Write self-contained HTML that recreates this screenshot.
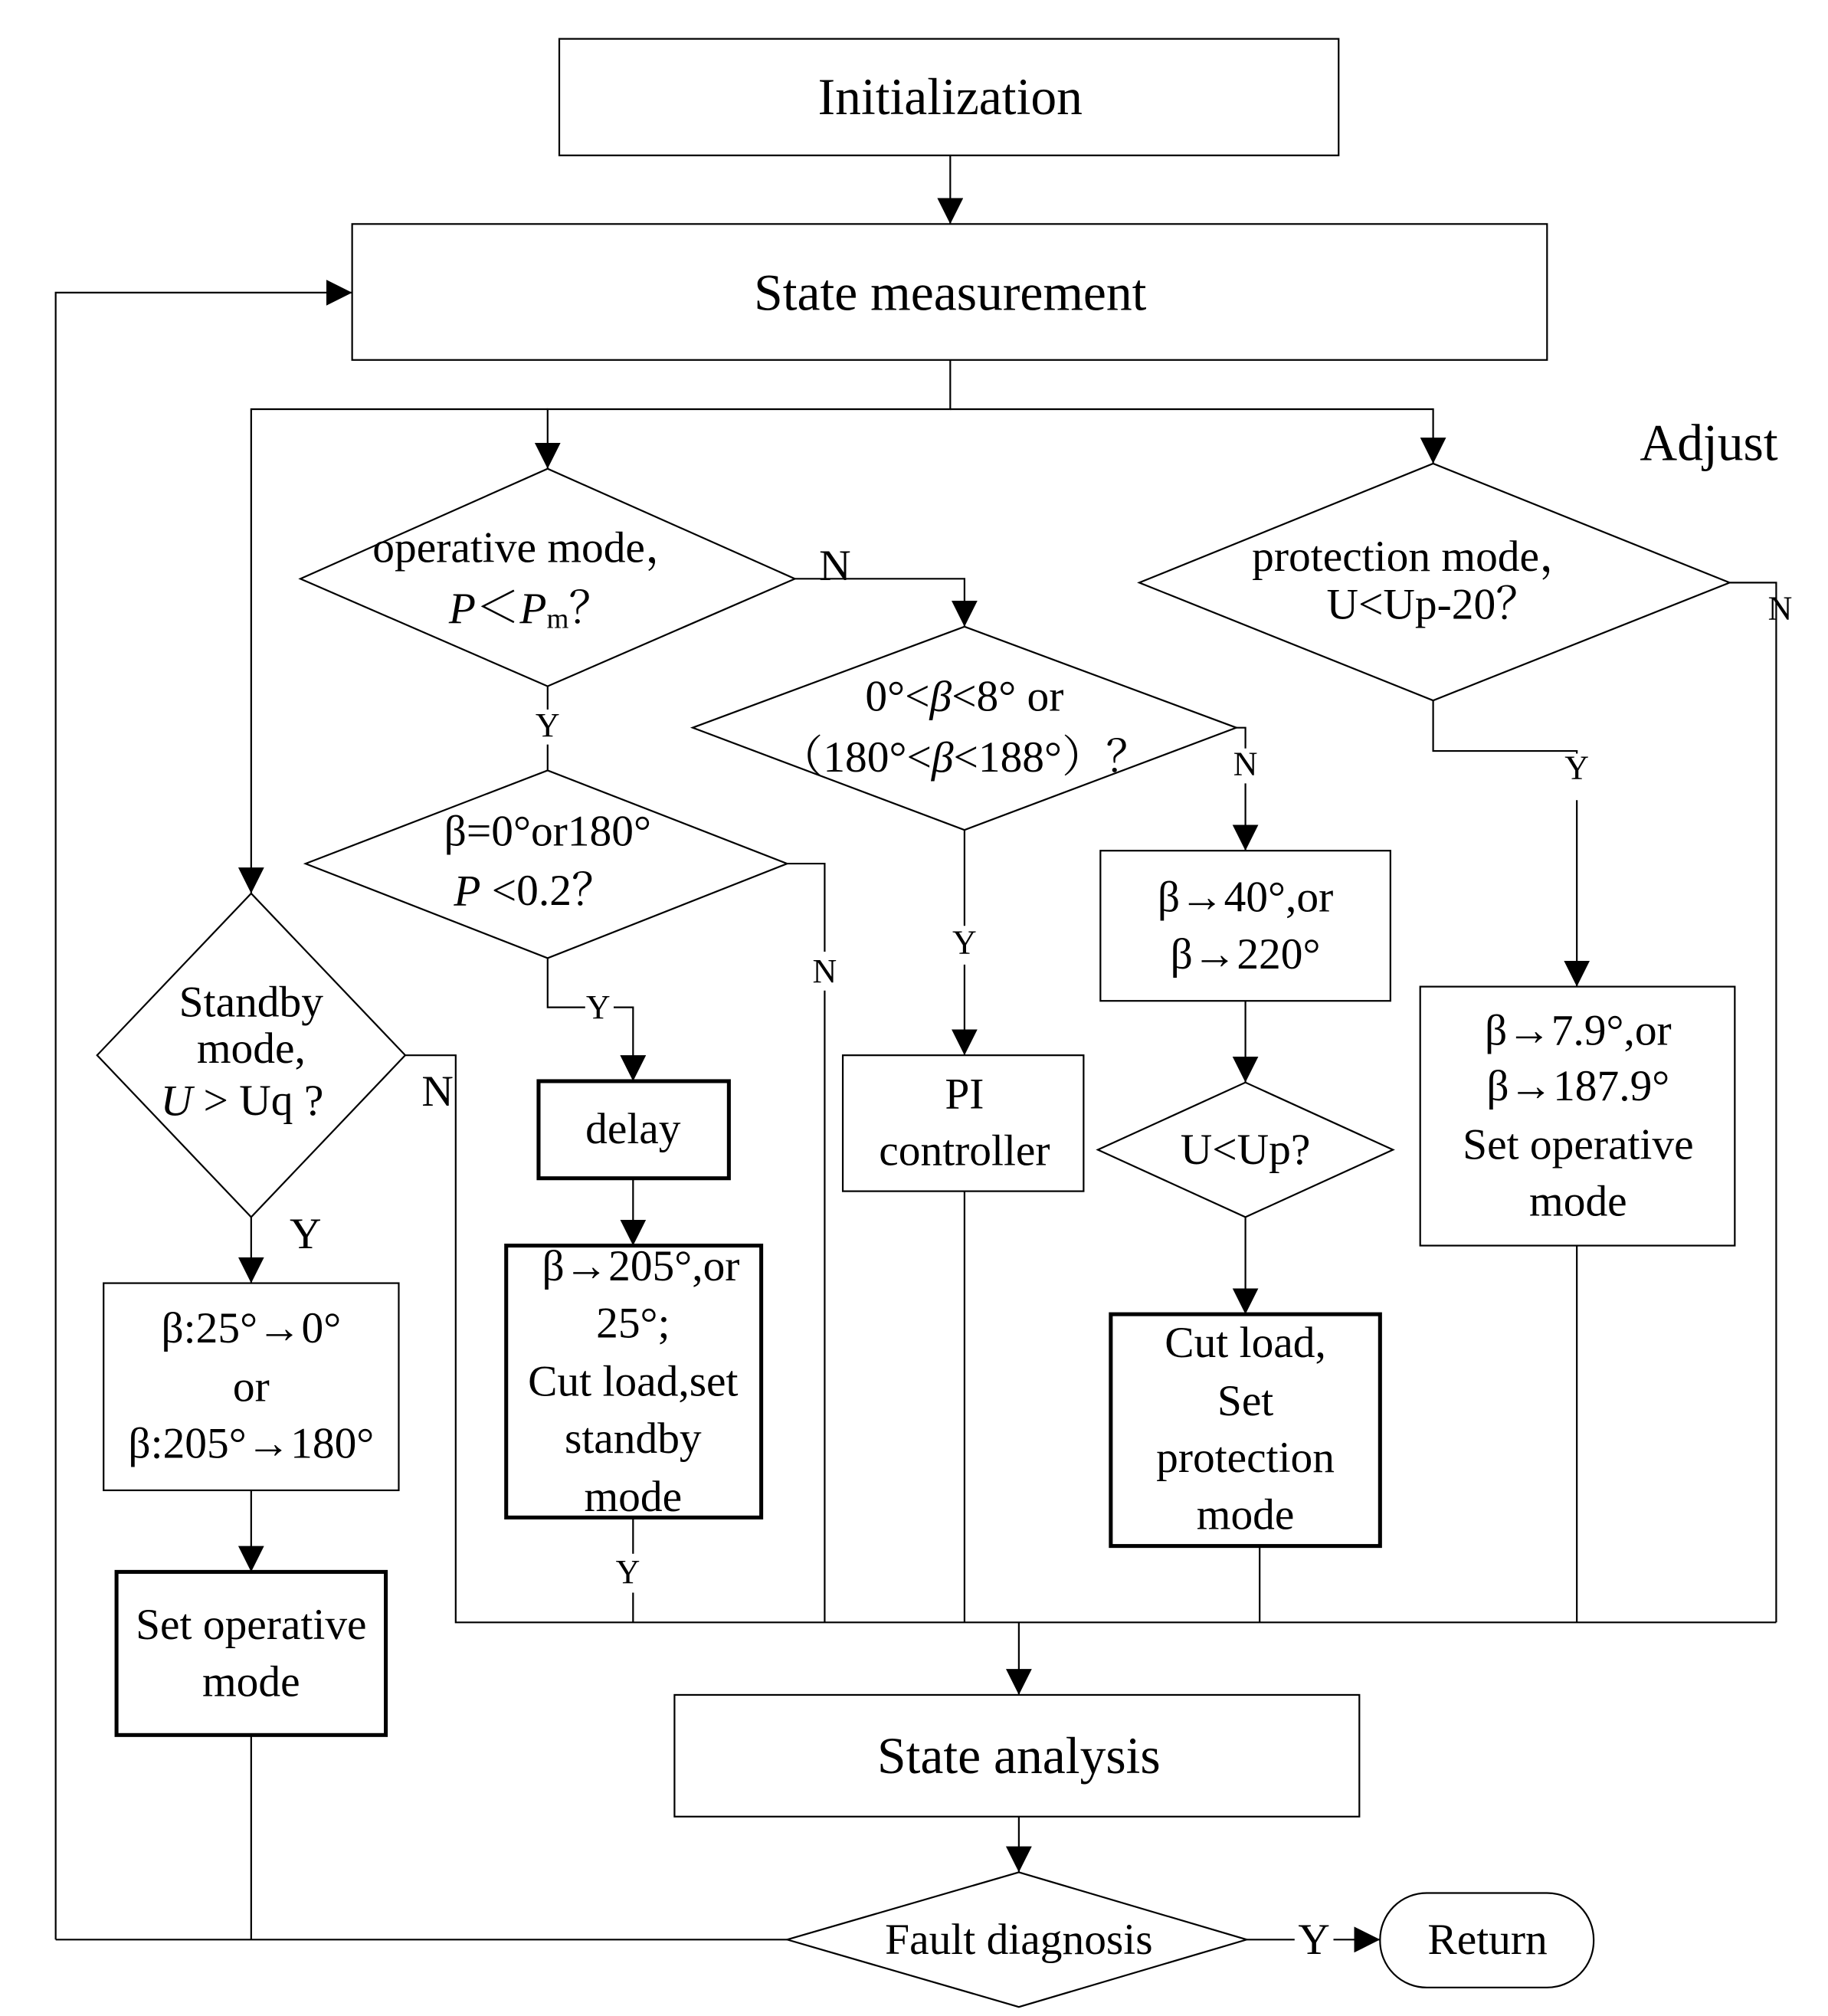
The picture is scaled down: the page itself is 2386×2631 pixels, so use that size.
<!DOCTYPE html>
<html><head><meta charset="utf-8"><style>
html,body{margin:0;padding:0;background:#fff}
svg{display:block}
text{font-family:"Liberation Serif","Noto Serif CJK SC",serif;fill:#000;text-anchor:middle;dominant-baseline:central}
</style></head><body>
<svg width="2386" height="2631" viewBox="0 0 1412 1557" xmlns="http://www.w3.org/2000/svg">
<defs><marker id="a" markerWidth="10" markerHeight="10" refX="9" refY="5" orient="auto" markerUnits="userSpaceOnUse"><path d="M0,0 L10,5 L0,10 z" fill="#000"/></marker>
<marker id="b" markerWidth="20" markerHeight="20" refX="20" refY="10" orient="auto" markerUnits="userSpaceOnUse"><path d="M0,0 L20,10 L0,20 z" fill="#000"/></marker></defs>
<g fill="none" stroke="#000" stroke-width="1.3">
<rect x="432" y="30" width="602" height="90"/>
<rect x="272" y="173" width="923" height="105"/>
<rect x="651" y="815" width="186" height="105"/>
<rect x="850" y="657" width="224" height="116"/>
<rect x="1097" y="762" width="243" height="200"/>
<rect x="80" y="991" width="228" height="160"/>
<rect x="521" y="1309" width="529" height="94"/>
<rect x="1066" y="1462" width="165" height="73" rx="36"/>
<g stroke-width="3">
<rect x="858" y="1015" width="208" height="179"/>
<rect x="416" y="835" width="147" height="75"/>
<rect x="391" y="962" width="197" height="210"/>
<rect x="90" y="1214" width="208" height="126"/>
</g>
<polygon points="232,447 423,362 614,447 423,530"/>
<polygon points="535,562 745,484 955,562 745,641"/>
<polygon points="848,888 962,836 1076,888 962,940"/>
<polygon points="880,450 1107,358 1336,450 1107,541"/>
<polygon points="236,667 423,595 608,667 423,740"/>
<polygon points="75,815 194,690 313,815 194,940"/>
<polygon points="608,1498 787,1446 963,1498 787,1550"/>
</g>
<g fill="none" stroke="#000" stroke-width="1.3" marker-end="url(#b)">
<path d="M734,120 V173"/>
<path d="M43,1498 V226 H272"/>
<path d="M734,278 V316 H423 V362"/>
<path d="M734,316 H1107 V358"/>
<path d="M423,316 H194 V690"/>
<path d="M614,447 H745 V484"/>
<path d="M745,641 V715 M745,745 V815"/>
<path d="M955,562 H962 V578 M962,605 V657"/>
<path d="M962,773 V836"/>
<path d="M962,940 V1015"/>
<path d="M1107,541 V580 H1218 V582 M1218,618 V762"/>
<path d="M423,740 V778 H452 M474,778 H489 V835"/>
<path d="M489,910 V962"/>
<path d="M194,940 V991"/>
<path d="M194,1151 V1214"/>
<path d="M787,1253 V1309"/>
<path d="M787,1403 V1446"/>
<path d="M1030,1498 H1066"/>
</g>
<g fill="none" stroke="#000" stroke-width="1.3">
<path d="M423,530 V548 M423,575 V595"/>
<path d="M973,1194 V1253"/>
<path d="M1336,450 H1372 V1253"/>
<path d="M1218,962 V1253"/>
<path d="M608,667 H637 V735 M637,765 V1253"/>
<path d="M489,1172 V1200 M489,1230 V1253"/>
<path d="M313,815 H352 V1253 H1372"/>
<path d="M745,920 V1253"/>
<path d="M194,1340 V1498 M608,1498 H43"/>
<path d="M963,1498 H1000"/>
</g>
<g font-size="40">
<text x="734" y="75">Initialization</text>
<text x="734" y="226">State measurement</text>
<text x="787" y="1356">State analysis</text>
<text x="1320" y="342">Adjust</text>
</g>
<g font-size="34">
<text x="410" y="423">operative mode，</text>
<text x="410" y="470"><tspan font-style="italic">P</tspan>＜<tspan font-style="italic">P</tspan><tspan font-size="22" dy="8">m</tspan><tspan dy="-8">？</tspan></text>
<text x="745" y="538">0°&lt;<tspan font-style="italic">β</tspan>&lt;8° or</text>
<text x="745" y="585">（180°&lt;<tspan font-style="italic">β</tspan>&lt;188°）？</text>
<text x="745" y="845">PI</text>
<text x="745" y="889">controller</text>
<text x="962" y="693">β→40°,or</text>
<text x="962" y="737">β→220°</text>
<text x="962" y="888">U&lt;Up?</text>
<text x="962" y="1037">Cut load,</text>
<text x="962" y="1082">Set</text>
<text x="962" y="1126">protection</text>
<text x="962" y="1170">mode</text>
<text x="1095" y="430">protection mode，</text>
<text x="1107" y="467">U&lt;Up-20？</text>
<text x="1219" y="796">β→7.9°,or</text>
<text x="1219" y="839">β→187.9°</text>
<text x="1219" y="884">Set operative</text>
<text x="1219" y="928">mode</text>
<text x="423" y="642">β=0°or180°</text>
<text x="413" y="688"><tspan font-style="italic">P</tspan> &lt;0.2？</text>
<text x="489" y="872">delay</text>
<text x="495" y="978">β→205°,or</text>
<text x="489" y="1022">25°;</text>
<text x="489" y="1067">Cut load,set</text>
<text x="489" y="1111">standby</text>
<text x="489" y="1156">mode</text>
<text x="194" y="774">Standby</text>
<text x="194" y="810">mode,</text>
<text x="187" y="850"><tspan font-style="italic">U</tspan> &gt; Uq ?</text>
<text x="194" y="1026">β:25°→0°</text>
<text x="194" y="1071">or</text>
<text x="194" y="1115">β:205°→180°</text>
<text x="194" y="1255">Set operative</text>
<text x="194" y="1299">mode</text>
<text x="787" y="1498">Fault diagnosis</text>
<text x="1149" y="1498">Return</text>
<text x="645" y="437">N</text>
<text x="338" y="843">N</text>
<text x="236" y="953">Y</text>
<text x="1015" y="1498">Y</text>
</g>
<g font-size="26">
<text x="423" y="560">Y</text>
<text x="745" y="728">Y</text>
<text x="962" y="590">N</text>
<text x="1375" y="470">N</text>
<text x="1218" y="593">Y</text>
<text x="637" y="750">N</text>
<text x="462" y="778">Y</text>
<text x="485" y="1214">Y</text>
</g>
</svg>
</body></html>
